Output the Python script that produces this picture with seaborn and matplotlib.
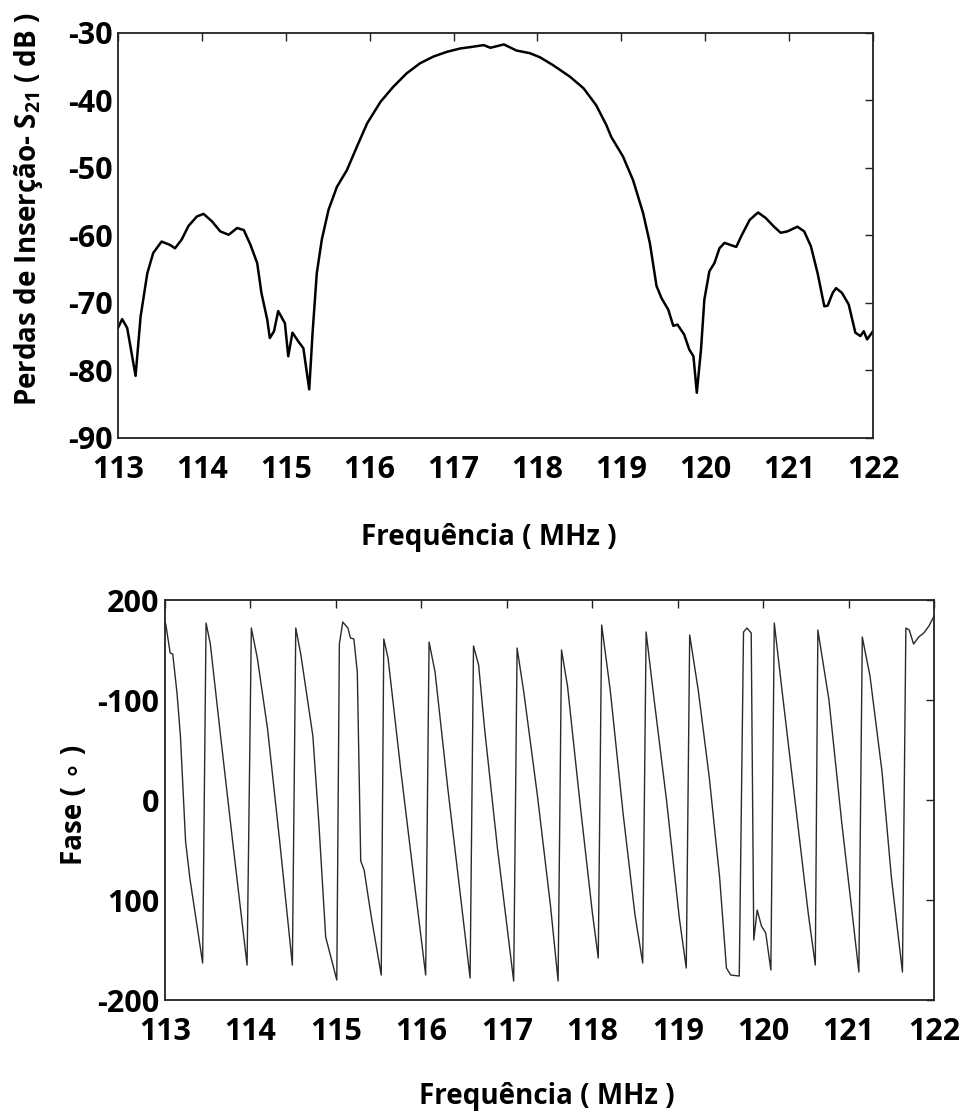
import numpy as np
import pandas as pd
import seaborn as sns
from matplotlib import pyplot as plt


# S21 magnitude (dB) vs frequency (MHz)
freq_s21 = [113.00, 113.05, 113.11, 113.21, 113.27, 113.35, 113.42, 113.52, 113.62, 113.68,
            113.76, 113.84, 113.94, 114.02, 114.12, 114.22, 114.32, 114.42, 114.50, 114.58,
            114.66, 114.71, 114.78, 114.81, 114.86, 114.91, 114.99, 115.03, 115.08, 115.15,
            115.21, 115.28, 115.32, 115.37, 115.43, 115.51, 115.61, 115.73, 115.85, 115.97,
            116.13, 116.28, 116.44, 116.60, 116.76, 116.92, 117.08, 117.20, 117.36, 117.44,
            117.60, 117.75, 117.91, 118.03, 118.19, 118.39, 118.55, 118.70, 118.82, 118.88,
            119.02, 119.14, 119.26, 119.34, 119.42, 119.48, 119.56, 119.62, 119.67, 119.75,
            119.81, 119.86, 119.90, 119.95, 119.99, 120.05, 120.11, 120.17, 120.23, 120.37,
            120.43, 120.53, 120.63, 120.72, 120.82, 120.90, 120.98, 121.10, 121.18, 121.26,
            121.34, 121.42, 121.46, 121.52, 121.56, 121.63, 121.71, 121.79, 121.85, 121.89,
            121.93, 122.00]
s21_db = [-73.7, -72.4, -73.7, -80.8, -72.0, -65.6, -62.6, -60.9, -61.4, -61.9,
          -60.6, -58.6, -57.2, -56.8, -57.9, -59.4, -59.9, -58.9, -59.2, -61.4,
          -64.1, -68.5, -72.5, -75.2, -74.2, -71.2, -73.0, -77.9, -74.4, -75.7,
          -76.7, -82.8, -74.4, -65.6, -60.6, -56.2, -52.8, -50.3, -46.8, -43.4,
          -40.2, -38.0, -36.0, -34.5, -33.5, -32.8, -32.3, -32.1, -31.8, -32.2,
          -31.7, -32.6, -33.0, -33.6, -34.8, -36.5, -38.2, -40.7, -43.6, -45.4,
          -48.3, -51.8, -56.7, -61.1, -67.5, -69.3, -71.0, -73.4, -73.2, -74.7,
          -76.9, -77.9, -83.3, -76.9, -69.5, -65.3, -64.1, -61.9, -61.1, -61.7,
          -60.1, -57.7, -56.6, -57.4, -58.7, -59.6, -59.4, -58.7, -59.4, -61.6,
          -65.6, -70.5, -70.4, -68.5, -67.8, -68.5, -70.2, -74.4, -74.9, -74.2,
          -75.4, -74.2]

# phase (deg) vs frequency (MHz)
freq_phase = [113.00, 113.01, 113.06, 113.09, 113.14, 113.18, 113.24, 113.29, 113.35, 113.44,
              113.48, 113.53, 113.65, 113.80, 113.96, 114.01, 114.08, 114.20, 114.35, 114.49,
              114.53, 114.59, 114.73, 114.80, 114.88, 115.01, 115.04, 115.08, 115.14, 115.17,
              115.21, 115.25, 115.29, 115.33, 115.41, 115.53, 115.56, 115.61, 115.76, 115.92,
              116.05, 116.09, 116.16, 116.31, 116.47, 116.57, 116.61, 116.67, 116.74, 116.89,
              117.08, 117.12, 117.20, 117.36, 117.51, 117.60, 117.64, 117.71, 117.86, 118.00,
              118.07, 118.11, 118.21, 118.36, 118.50, 118.59, 118.63, 118.71, 118.87, 119.02,
              119.10, 119.14, 119.24, 119.37, 119.49, 119.57, 119.62, 119.72, 119.77, 119.81,
              119.86, 119.89, 119.93, 119.98, 120.03, 120.09, 120.13, 120.22, 120.38, 120.53,
              120.61, 120.64, 120.77, 120.92, 121.04, 121.12, 121.16, 121.25, 121.39, 121.50,
              121.63, 121.67, 121.71, 121.76, 121.82, 121.88, 121.94, 122.00]
phase_deg = [178, 175, 147, 146, 107, 64, -41, -78, -112, -163,
             177, 156, 64, -48, -165, 172, 142, 71, -48, -165,
             172, 145, 64, -23, -137, -180, 156, 178, 172, 162,
             161, 128, -61, -70, -115, -175, 161, 142, 29, -84,
             -175, 158, 128, 11, -105, -178, 154, 135, 71, -48,
             -181, 152, 107, 3, -105, -181, 150, 114, -6, -112,
             -158, 175, 110, -13, -115, -163, 168, 110, -1, -119,
             -168, 165, 110, 22, -77, -168, -175, -176, 168, 172,
             167, -140, -110, -126, -133, -170, 177, 110, -6, -115,
             -165, 170, 100, -23, -112, -172, 163, 124, 29, -77,
             -172, 172, 170, 156, 163, 167, 174, 184]

freq_ticks = [113, 114, 115, 116, 117, 118, 119, 120, 121, 122]
s21_ticks = [-30, -40, -50, -60, -70, -80, -90]
phase_ticks = [200, 100, 0, -100, -200]
phase_ticklabels = ['200', '-100', '0', '100', '-200']

sns.set_theme(style='white')
plt.rcParams['font.family'] = ['Open Sans', 'DejaVu Sans']
plt.rcParams['font.weight'] = 'bold'
plt.rcParams['text.color'] = 'black'
plt.rcParams['axes.labelcolor'] = 'black'
plt.rcParams['axes.unicode_minus'] = False
plt.rcParams['mathtext.fontset'] = 'custom'
plt.rcParams['mathtext.bf'] = 'Open Sans:bold'
plt.rcParams['mathtext.rm'] = 'Open Sans:bold'

df_s21 = pd.DataFrame({'freq': freq_s21, 'db': s21_db})
df_phase = pd.DataFrame({'freq': freq_phase, 'deg': phase_deg})

fig = plt.figure(figsize=(9.59, 11.13), dpi=100)
ax1 = fig.add_axes([0.1230, 0.6065, 0.7873, 0.3639])
ax2 = fig.add_axes([0.1721, 0.1015, 0.8019, 0.3594])

sns.lineplot(data=df_s21, x='freq', y='db', ax=ax1, color='black', linewidth=1.8,
             estimator=None, sort=False)
sns.lineplot(data=df_phase, x='freq', y='deg', ax=ax2, color='#2a2a2a', linewidth=1.0,
             estimator=None, sort=False)

for ax in (ax1, ax2):
    ax.set_xlim(113, 122)
    ax.set_xticks(freq_ticks)
    ax.tick_params(direction='in', top=True, right=True, length=6, width=1.0,
                   color='#222222', labelsize=22, labelcolor='black')
    ax.tick_params(axis='x', pad=12, labeltop=False)
    ax.tick_params(axis='y', pad=4, labelright=False)
    for sp in ax.spines.values():
        sp.set_color('#222222')
        sp.set_linewidth(1.3)
    ax.grid(False)

ax1.set_ylim(-90, -30)
ax1.set_yticks(s21_ticks)
ax1.set_xlabel('Frequência ( MHz )', fontsize=20, fontweight='bold', color='black')
ax1.set_ylabel(r'Perdas de Inserção- $\mathbf{S_{21}}$ ( dB )', fontsize=20,
               fontweight='bold', va='center', color='black')
ax1.xaxis.set_label_coords(0.491, -0.21)
ax1.yaxis.set_label_coords(-0.118, 0.565)

ax2.set_ylim(-200, 200)
ax2.set_yticks(phase_ticks)
ax2.set_yticklabels(phase_ticklabels)
ax2.set_xlabel('Frequência ( MHz )', fontsize=20, fontweight='bold', color='black')
ax2.set_ylabel('Fase ( ∘ )', fontsize=20, fontweight='bold', va='center', color='black')
ax2.xaxis.set_label_coords(0.497, -0.205)
ax2.yaxis.set_label_coords(-0.118, 0.4875)

fig.savefig('out.png', dpi=100)
